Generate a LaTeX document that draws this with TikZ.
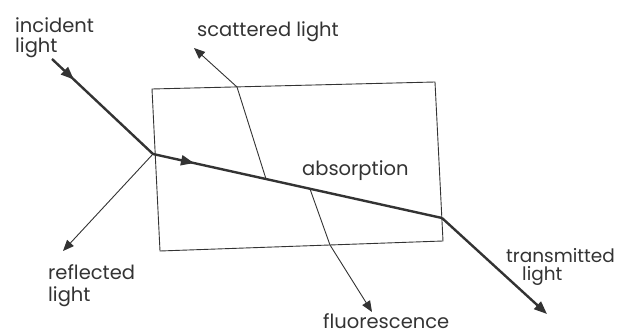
\documentclass[tikz,border=0pt]{standalone}
\usepackage{fontspec}
\setmainfont{Poppins}
\usetikzlibrary{arrows.meta,decorations.markings}
\definecolor{ink}{HTML}{333333}
\tikzset{
  thickray/.style={draw=ink,line width=2.4pt},
  thinray/.style={draw=ink,line width=0.9pt},
  boxline/.style={draw=ink,line width=0.9pt},
  bigtip/.style={-{Triangle[length=13pt,width=10pt]}},
  smalltip/.style={-{Triangle[length=11pt,width=9pt]}},
  midtip/.style={postaction={decorate},decoration={markings,
    mark=at position #1 with {\arrow{Triangle[length=13pt,width=10pt]}}}},
  lbl/.style={text=ink,inner sep=0pt,anchor=base west,align=left,
    font=\fontsize{19.5}{20}\selectfont}
}
\begin{document}
\begin{tikzpicture}[x=1pt,y=-1pt]
\useasboundingbox (0,0) rectangle (619,336);
% box corners
\coordinate (tl) at (152,89);
\coordinate (tr) at (435,82);
\coordinate (br) at (443,241);
\coordinate (bl) at (160,251);
\draw[boxline] (tl) -- (tr) -- (br) -- (bl) -- cycle;
% ray points
\coordinate (S) at (52,59);
\coordinate (P1) at (153,154);
\coordinate (P2) at (442,218);
\coordinate (T) at (547,314);
\coordinate (R) at (63,251);
\coordinate (A) at (266,179);
\coordinate (B) at (237,87);
\coordinate (C) at (194,48);
\coordinate (F) at (310,189);
\coordinate (G) at (330,245);
\coordinate (H) at (372,312);
% rays
\draw[thinray,smalltip] (P1) -- (R);
\draw[thinray,smalltip] (A) -- (B) -- (C);
\draw[thinray,smalltip] (F) -- (G) -- (H);
\draw[thickray,midtip=30pt,line join=round] (S) -- (P1);
\draw[thickray,midtip=42pt,line join=round] (P1) -- (P2);
\draw[thickray,bigtip] (P2) -- (T);
% labels (base anchor = baseline of the last line)
\node[lbl] (inc) at (15,53) {incident\\light};
\node[lbl] (sca) at (197,37) {scattered light};
\node[lbl] (abs) at (302,176) {absorption};
\node[lbl,font=\fontsize{19.5}{22}\selectfont] (ref) at (48,302) {reflected\\light};
\node[lbl,font=\fontsize{18.5}{18}\selectfont] (tra) at (506,281) {transmitted\\\hspace*{16pt}light};
\node[lbl] (flu) at (323,329) {fluorescence};
\end{tikzpicture}
\end{document}
